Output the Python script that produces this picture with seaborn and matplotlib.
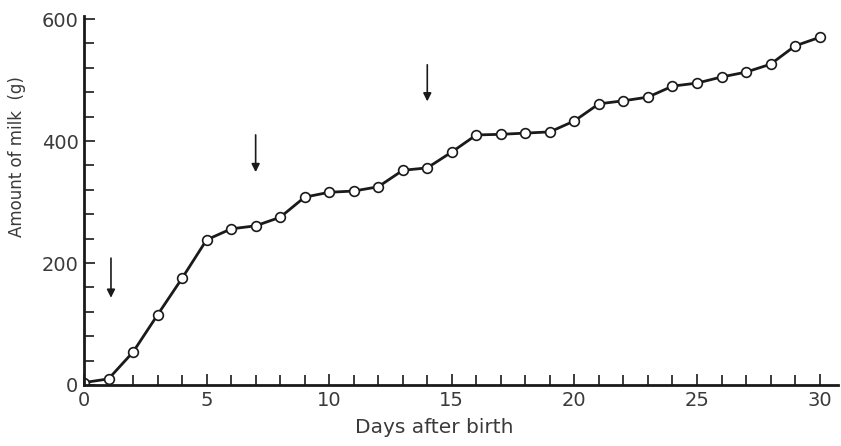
import matplotlib
matplotlib.use("Agg")
import matplotlib.pyplot as plt
from matplotlib.ticker import MultipleLocator
import pandas as pd
import seaborn as sns

# ── data ─────────────────────────────────────────────────────────────────
days = list(range(0, 31))
milk_g = [4, 10, 54, 115, 175, 238, 256, 261, 275, 308, 316, 318, 325,
          352, 356, 382, 410, 411, 413, 415, 433, 461, 466, 472, 490,
          495, 505, 513, 526, 556, 570]

# arrows: (day, tail value, head value)
arrow_days = [1.1, 7.0, 14.0]
arrow_tail = [208, 410, 525]
arrow_head = [143, 349, 465]

df = pd.DataFrame({"day": days, "milk": milk_g})

sns.set_theme(style="ticks")
plt.rcParams["font.family"] = ["DejaVu Sans"]

ink = "#1a1a1a"
txt = "#3a3a3a"

fig = plt.figure(figsize=(8.41, 4.46), dpi=100)
ax = fig.add_axes([84 / 841, 61 / 446, (838 - 84) / 841, (385 - 16) / 446])

sns.lineplot(data=df, x="day", y="milk", ax=ax, color=ink, linewidth=2,
             marker="o", markersize=7, markerfacecolor="white",
             markeredgecolor=ink, markeredgewidth=1.2)

for d, t, h in zip(arrow_days, arrow_tail, arrow_head):
    ax.annotate("", xy=(d, h), xytext=(d, t),
                arrowprops=dict(arrowstyle="-|>", color=ink, lw=1.2,
                                mutation_scale=12, shrinkA=0, shrinkB=0))

ax.set_xlim(0, 30.75)
ax.set_ylim(0, 605)
ax.xaxis.set_major_locator(MultipleLocator(5))
ax.xaxis.set_minor_locator(MultipleLocator(1))
ax.yaxis.set_major_locator(MultipleLocator(200))
ax.yaxis.set_minor_locator(MultipleLocator(40))

sns.despine(ax=ax)
for side in ("left", "bottom"):
    ax.spines[side].set_linewidth(2)
    ax.spines[side].set_color(ink)

ax.tick_params(which="both", direction="in", color=ink, width=1.2,
               labelcolor=txt, labelsize=14, pad=4)
ax.tick_params(which="major", length=8)
ax.tick_params(which="minor", length=7)

ax.set_xlabel("Days after birth", fontsize=14.5, color=txt)
ax.xaxis.set_label_coords(0.464, -0.09)
ax.set_ylabel("Amount of milk  (g)", fontsize=12, color=txt)
ax.yaxis.set_label_coords(-0.077, 0.618)

fig.savefig("out.png", dpi=100)
